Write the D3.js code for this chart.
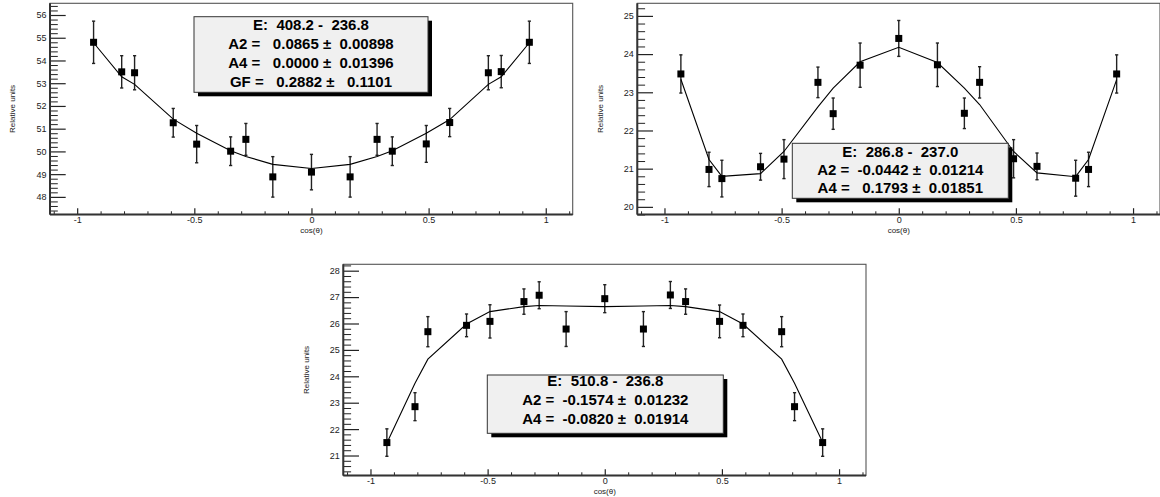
<!DOCTYPE html>
<html>
<head>
<meta charset="utf-8">
<script src="https://cdn.jsdelivr.net/npm/d3@7"></script>
<style>
  html, body { margin: 0; padding: 0; background: #fff; }
  svg { display: block; }
  text { font-family: "Liberation Sans", Arial, Helvetica, sans-serif; }
</style>
</head>
<body>
<svg id="chart" width="1160" height="497"></svg>
<script>
// ---------- data ----------
const cosTheta = [-0.93, -0.81, -0.755, -0.59, -0.49, -0.345, -0.28, -0.165, 0,
                  0.165, 0.28, 0.345, 0.49, 0.59, 0.755, 0.81, 0.93];

// Panel 1 : E 408.2 - 236.8
const p1Values = [54.80, 53.50, 53.46, 51.26, 50.32, 50.01, 50.53, 48.88, 49.09,
                  48.88, 50.53, 50.01, 50.33, 51.27, 53.46, 53.51, 54.80];
const p1Errors = [0.93, 0.71, 0.75, 0.63, 0.82, 0.63, 0.70, 0.89, 0.78,
                  0.89, 0.70, 0.63, 0.81, 0.62, 0.75, 0.71, 0.93];
const p1Fit    = [54.78, 53.28, 52.95, 51.42, 50.80, 50.03, 49.78, 49.43, 49.25,
                  49.43, 49.78, 50.03, 50.80, 51.40, 52.95, 53.28, 54.78];
const p1Box = ["E:  408.2 -  236.8",
               "A2 =   0.0865 \u00B1  0.00898",
               "A4 =   0.0000 \u00B1  0.01396",
               "GF =   0.2882 \u00B1   0.1101"];
const p1YTicks = [48, 49, 50, 51, 52, 53, 54, 55, 56];
const p1YRange = [47.225, 56.515];

// Panel 2 : E 286.8 - 237.0
const p2Values = [23.48, 20.98, 20.74, 21.05, 21.25, 23.26, 22.44, 23.71, 24.41,
                  23.72, 22.45, 23.26, 21.26, 21.06, 20.75, 20.98, 23.48];
const p2Errors = [0.50, 0.45, 0.48, 0.35, 0.51, 0.40, 0.41, 0.58, 0.47,
                  0.57, 0.40, 0.41, 0.50, 0.35, 0.47, 0.45, 0.50];
const p2Fit    = [23.34, 21.24, 20.80, 20.87, 21.45, 22.62, 23.11, 23.80, 24.18,
                  23.78, 23.11, 22.68, 21.45, 20.89, 20.79, 21.24, 23.33];
const p2Box = ["E:  286.8 -  237.0",
               "A2 =  -0.0442 \u00B1  0.01214",
               "A4 =   0.1793 \u00B1  0.01851"];
const p2YTicks = [20, 21, 22, 23, 24, 25];
const p2YRange = [19.80, 25.33];

// Panel 3 : E 510.8 - 236.8
const p3Values = [21.49, 22.85, 25.69, 25.93, 26.08, 26.83, 27.07, 25.79, 26.94,
                  25.79, 27.08, 26.83, 26.08, 25.93, 25.69, 22.85, 21.49];
const p3Errors = [0.52, 0.53, 0.57, 0.43, 0.63, 0.48, 0.51, 0.66, 0.53,
                  0.66, 0.51, 0.48, 0.62, 0.43, 0.57, 0.53, 0.52];
const p3Fit    = [21.47, 23.74, 24.65, 25.98, 26.45, 26.64, 26.68, 26.66, 26.64,
                  26.66, 26.68, 26.64, 26.45, 25.98, 24.65, 23.74, 21.50];
const p3Box = ["E:  510.8 -  236.8",
               "A2 =  -0.1574 \u00B1  0.01232",
               "A4 =  -0.0820 \u00B1  0.01914"];
const p3YTicks = [21, 22, 23, 24, 25, 26, 27, 28];
const p3YRange = [20.243, 28.242];

const xTickValues = [-1, -0.5, 0, 0.5, 1];
const xTickLabels = ["-1", "-0.5", "0", "0.5", "1"];
const xRange = [-1.116, 1.115];
const xTitle = "cos(\u03B8)";
const yTitle = "Relative units";

// ---------- layout ----------
const svg = d3.select("#chart");
const FW = 522.7, FH = 211.2;

const panels = [
  { left: 50,    top: 3.3,   values: p1Values, errors: p1Errors, fit: p1Fit, box: p1Box,
    yTicks: p1YTicks, yRange: p1YRange,
    boxRect: [144, 13.4, 234, 75.6], lineY: [23.2, 42.2, 61.2, 80.2] },
  { left: 637.3, top: 3.3,   values: p2Values, errors: p2Errors, fit: p2Fit, box: p2Box,
    yTicks: p2YTicks, yRange: p2YRange,
    boxRect: [155, 140, 216, 55], lineY: [149.3, 167.8, 186.2] },
  { left: 343.3, top: 264.3, values: p3Values, errors: p3Errors, fit: p3Fit, box: p3Box,
    yTicks: p3YTicks, yRange: p3YRange,
    boxRect: [144, 110.7, 236, 58.3], lineY: [118.2, 137.2, 155.7] }
];

function range(a, b, step) {
  const out = [];
  const n = Math.round((b - a) / step);
  for (let i = 0; i <= n; i++) out.push(+(a + i * step).toFixed(6));
  return out;
}

panels.forEach(p => {
  const g = svg.append("g").attr("transform", `translate(${p.left},${p.top})`);
  const x = d3.scaleLinear().domain(xRange).range([0, FW]);
  const y = d3.scaleLinear().domain(p.yRange).range([FH, 0]);

  // frame
  g.append("rect").attr("x", 0).attr("y", 0).attr("width", FW).attr("height", FH)
    .attr("fill", "#fff").attr("stroke", "#555").attr("stroke-width", 1.1);

  // minor y ticks
  const yMinor = range(Math.ceil(p.yRange[0] * 5) / 5, Math.floor(p.yRange[1] * 5) / 5, 0.2)
    .filter(v => Math.abs(v - Math.round(v)) > 1e-6);
  g.append("g").call(d3.axisLeft(y).tickValues(yMinor).tickSize(-7.8).tickSizeOuter(0).tickFormat(""))
    .call(a => a.select(".domain").remove())
    .selectAll("line").attr("stroke", "#222").attr("stroke-width", 1);

  // major y ticks
  const yAx = g.append("g").call(d3.axisLeft(y).tickValues(p.yTicks).tickSize(-15.7)
      .tickSizeOuter(0).tickPadding(3.5).tickFormat(d => String(d)));
  yAx.select(".domain").remove();
  yAx.selectAll("line").attr("stroke", "#222").attr("stroke-width", 1.2);
  yAx.selectAll("text").attr("font-size", 9).attr("fill", "#222")
    .style("font-family", "'Liberation Sans', Arial, sans-serif");

  // minor x ticks
  const xMinor = range(-1.1, 1.1, 0.1).filter(v => Math.abs(v * 2 - Math.round(v * 2)) > 1e-6);
  g.append("g").attr("transform", `translate(0,${FH})`)
    .call(d3.axisBottom(x).tickValues(xMinor).tickSize(-3.2).tickSizeOuter(0).tickFormat(""))
    .call(a => a.select(".domain").remove())
    .selectAll("line").attr("stroke", "#222").attr("stroke-width", 1);

  // major x ticks
  const xAx = g.append("g").attr("transform", `translate(0,${FH})`)
    .call(d3.axisBottom(x).tickValues(xTickValues).tickSize(-6.3).tickSizeOuter(0)
      .tickPadding(2.5).tickFormat((d, i) => xTickLabels[i]));
  xAx.select(".domain").remove();
  xAx.selectAll("line").attr("stroke", "#222").attr("stroke-width", 1.2);
  xAx.selectAll("text").attr("font-size", 9).attr("fill", "#222")
    .style("font-family", "'Liberation Sans', Arial, sans-serif");

  // axis lines (bottom, left)
  g.append("line").attr("x1", 0).attr("x2", FW).attr("y1", FH).attr("y2", FH)
    .attr("stroke", "#333").attr("stroke-width", 2);
  g.append("line").attr("x1", 0).attr("x2", 0).attr("y1", 0).attr("y2", FH)
    .attr("stroke", "#333").attr("stroke-width", 2);

  // titles
  g.append("text").attr("x", x(0)).attr("y", FH + 18.2).attr("text-anchor", "middle")
    .attr("font-size", 8).attr("fill", "#222").text(xTitle);
  g.append("text").attr("transform", `translate(-36.7,${FH / 2}) rotate(-90)`)
    .attr("text-anchor", "middle").attr("dominant-baseline", "middle")
    .attr("font-size", 8).attr("fill", "#222").text(yTitle);

  const pts = cosTheta.map((c, i) => ({ c, v: p.values[i], e: p.errors[i], f: p.fit[i] }));

  // error bars
  const eb = g.append("g").attr("stroke", "#222").attr("stroke-width", 1.4);
  pts.forEach(d => {
    const cx = x(d.c);
    eb.append("line").attr("x1", cx).attr("x2", cx).attr("y1", y(d.v - d.e)).attr("y2", y(d.v + d.e));
    eb.append("line").attr("x1", cx - 1.6).attr("x2", cx + 1.6).attr("y1", y(d.v + d.e)).attr("y2", y(d.v + d.e));
    eb.append("line").attr("x1", cx - 1.6).attr("x2", cx + 1.6).attr("y1", y(d.v - d.e)).attr("y2", y(d.v - d.e));
  });

  // fit curve
  g.append("path").datum(pts)
    .attr("d", d3.line().x(d => x(d.c)).y(d => y(d.f)))
    .attr("fill", "none").attr("stroke", "#000").attr("stroke-width", 1.1);

  // markers
  g.append("g").selectAll("rect").data(pts).join("rect")
    .attr("x", d => x(d.c) - 3.5).attr("y", d => y(d.v) - 3.5)
    .attr("width", 7).attr("height", 7).attr("fill", "#000");

  // stats box
  const [bx, by, bw, bh] = p.boxRect;
  g.append("rect").attr("x", bx + 4).attr("y", by + 4).attr("width", bw).attr("height", bh)
    .attr("fill", "#000");
  g.append("rect").attr("x", bx).attr("y", by).attr("width", bw).attr("height", bh)
    .attr("fill", "#f0f0f0").attr("stroke", "#333").attr("stroke-width", 1);
  p.box.forEach((t, i) => {
    g.append("text").attr("x", bx + bw / 2).attr("y", p.lineY[i])
      .attr("xml:space", "preserve")
      .attr("text-anchor", "middle").attr("dominant-baseline", "middle")
      .attr("font-size", 15).attr("font-weight", "bold").attr("fill", "#000")
      .style("white-space", "pre").text(t);
  });
});
</script>
</body>
</html>
